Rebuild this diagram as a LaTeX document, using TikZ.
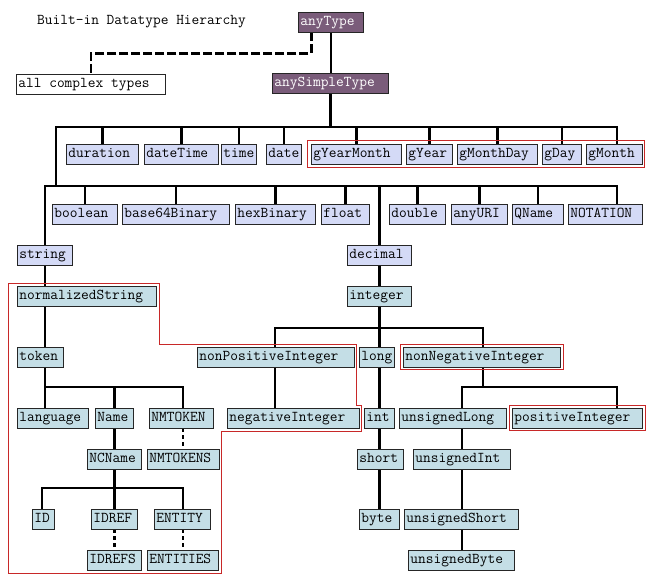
\documentclass[tikz,border=0pt]{standalone}
\usepackage{fontspec}
\pgfdeclarelayer{bg}
\pgfsetlayers{bg,main}
\definecolor{lav}{RGB}{212,218,246}
\definecolor{teal}{RGB}{196,222,230}
\definecolor{purp}{RGB}{122,92,122}
\definecolor{redl}{RGB}{200,40,40}
\newcommand\cour{\ttfamily\fontsize{15}{17}\selectfont}
\tikzset{
  bx/.style={draw=black!85, line width=0.8pt, inner xsep=2pt, inner ysep=0pt,
    minimum height=20pt, text height=9.5pt, text depth=3pt,
    font=\cour},
  lavbox/.style={fill=lav},
  tealbox/.style={fill=teal},
  purpbox/.style={fill=purp, text=white},
  whitebox/.style={fill=white},
  tree/.style={line width=2.8pt, line cap=rect},
  dtree/.style={line width=2.8pt, dash pattern=on 4pt off 3pt},
  redline/.style={draw=redl, line width=1pt},
}
\newcommand\bxn[6]{\pgfmathsetmacro\bxw{#4-#3-4}\node[bx,#1,anchor=west] (#2) at (#3,#5) {\makebox[\bxw pt][l]{#6}};}
\begin{document}
\begin{tikzpicture}[x=1pt,y=-1pt]
\useasboundingbox (0,0) rectangle (657,586);
\node[anchor=west, inner sep=0pt, font=\cour] (title) at (37,22) {Built-in Datatype Hierarchy};
% top
\bxn{purpbox}{anyType}{298}{363}{22}{anyType}
\bxn{whitebox}{allcomplex}{16}{165}{84}{all complex types}
\bxn{purpbox}{anySimpleType}{272}{388}{83}{anySimpleType}
% row 1
\bxn{lavbox}{duration}{66}{138}{154}{duration}
\bxn{lavbox}{dateTime}{144}{218}{154}{dateTime}
\bxn{lavbox}{time}{221}{256}{154}{time}
\bxn{lavbox}{date}{266}{301}{154}{date}
\bxn{lavbox}{gYearMonth}{311}{401}{154}{gYearMonth}
\bxn{lavbox}{gYear}{406}{452}{154}{gYear}
\bxn{lavbox}{gMonthDay}{457}{537}{154}{gMonthDay}
\bxn{lavbox}{gDay}{542}{581}{154}{gDay}
\bxn{lavbox}{gMonth}{586}{642}{154}{gMonth}
% row 2
\bxn{lavbox}{boolean}{52}{117}{214.5}{boolean}
\bxn{lavbox}{base64Binary}{122}{229}{214.5}{base64Binary}
\bxn{lavbox}{hexBinary}{235}{315}{214.5}{hexBinary}
\bxn{lavbox}{float}{321}{369}{214.5}{float}
\bxn{lavbox}{double}{389}{445}{214.5}{double}
\bxn{lavbox}{anyURI}{451}{507}{214.5}{anyURI}
\bxn{lavbox}{QName}{512}{563}{214.5}{QName}
\bxn{lavbox}{NOTATION}{568}{642}{214.5}{NOTATION}
% row 3
\bxn{lavbox}{string}{17}{72}{255}{string}
\bxn{lavbox}{decimal}{347}{411}{255}{decimal}
% row 4
\bxn{tealbox}{normalizedString}{17}{156}{296}{normalizedString}
\bxn{tealbox}{integer}{347}{411}{296}{integer}
% row 5
\bxn{tealbox}{token}{17}{63}{357}{token}
\bxn{tealbox}{nonPositiveInteger}{197}{354}{357}{nonPositiveInteger}
\bxn{tealbox}{long}{359}{394}{357}{long}
\bxn{tealbox}{nonNegativeInteger}{403}{560}{357}{nonNegativeInteger}
% row 6
\bxn{tealbox}{language}{17}{88}{418}{language}
\bxn{tealbox}{Name}{95}{133}{418}{Name}
\bxn{tealbox}{NMTOKEN}{149}{213}{418}{NMTOKEN}
\bxn{tealbox}{negativeInteger}{227}{359}{418}{negativeInteger}
\bxn{tealbox}{int}{364}{394}{418}{int}
\bxn{tealbox}{unsignedLong}{399}{506}{418}{unsignedLong}
\bxn{tealbox}{positiveInteger}{512}{642}{418}{positiveInteger}
% row 7
\bxn{tealbox}{NCName}{87}{141}{459}{NCName}
\bxn{tealbox}{NMTOKENS}{147}{219}{459}{NMTOKENS}
\bxn{tealbox}{short}{357}{403}{459}{short}
\bxn{tealbox}{unsignedInt}{413}{510}{459}{unsignedInt}
% row 8
\bxn{tealbox}{ID}{32}{54}{519}{ID}
\bxn{tealbox}{IDREF}{91}{137}{519}{IDREF}
\bxn{tealbox}{ENTITY}{154}{210}{519}{ENTITY}
\bxn{tealbox}{byte}{359}{399}{519}{byte}
\bxn{tealbox}{unsignedShort}{404}{518}{519}{unsignedShort}
% row 9
\bxn{tealbox}{IDREFS}{87}{141}{560}{IDREFS}
\bxn{tealbox}{ENTITIES}{147}{218}{560}{ENTITIES}
\bxn{tealbox}{unsignedByte}{408}{514}{560}{unsignedByte}
% bus coordinates
\coordinate (b1L) at (56,127);
\coordinate (b1R) at (617,127);
\coordinate (b2L) at (45,186);
\coordinate (b2R) at (617,186);
\coordinate (bIL) at (275,328);
\coordinate (bIR) at (483,328);
\coordinate (tL) at (45,387);
\coordinate (tR) at (183,387);
\coordinate (nL) at (462,387);
\coordinate (nR) at (617,387);
\coordinate (cL) at (42,488);
\coordinate (cR) at (183,488);
\begin{pgfonlayer}{bg}
% top
\draw[tree] (anyType.south) -- (anyType.south |- anySimpleType.north);
\draw[line width=2.8pt, dash pattern=on 9pt off 3pt] ([xshift=-19.5pt]anyType.south) -- ++(0,21) -| (allcomplex.north);
\draw[tree] (anySimpleType.south) -- (anySimpleType.south |- b1L);
\draw[tree] (b1L) -- (b1R);
\foreach \n in {duration,dateTime,time,date,gYearMonth,gYear,gMonthDay,gDay}
  \draw[tree] (\n.north) -- (\n.north |- b1L);
\draw[tree] (gMonth.north -| b1R) -- (b1R);
\draw[tree] (b1L) -- (b1L |- b2L);
\draw[tree] (b2L) -- (b2R);
\foreach \n in {boolean,base64Binary,hexBinary,float,double,anyURI,QName,decimal}
  \draw[tree] (\n.north) -- (\n.north |- b2L);
\draw[tree] (NOTATION.north -| b2R) -- (b2R);
\draw[tree] (string.north -| b2L) -- (b2L);
% string subtree
\draw[tree] (string.south -| b2L) -- (normalizedString.north -| b2L);
\draw[tree] (normalizedString.south -| b2L) -- (token.north -| b2L);
\draw[tree] (token.south -| b2L) -- (tL);
\draw[tree] (tL) -- (tR);
\draw[tree] (language.north -| tL) -- (tL);
\draw[tree] (Name.north) -- (Name.north |- tL);
\draw[tree] (NMTOKEN.north -| tR) -- (tR);
\draw[dtree] (NMTOKEN.south -| tR) -- (NMTOKENS.north -| tR);
\draw[tree] (Name.south) -- (Name.south |- NCName.north);
\draw[tree] (NCName.south) -- (NCName.south |- cL);
\draw[tree] (cL) -- (cR);
\draw[tree] (ID.north -| cL) -- (cL);
\draw[tree] (IDREF.north) -- (IDREF.north |- cL);
\draw[tree] (ENTITY.north -| cR) -- (cR);
\draw[dtree] (IDREF.south) -- (IDREF.south |- IDREFS.north);
\draw[dtree] (ENTITY.south -| cR) -- (ENTITIES.north -| cR);
% decimal subtree
\draw[tree] (decimal.south) -- (integer.north);
\draw[tree] (integer.south) -- (integer.south |- long.north);
\draw[tree] (bIL) -- (bIR);
\draw[tree] (nonPositiveInteger.north -| bIL) -- (bIL);
\draw[tree] (nonNegativeInteger.north -| bIR) -- (bIR);
\draw[tree] (nonPositiveInteger.south -| bIL) -- (negativeInteger.north -| bIL);
\draw[tree] (integer.south |- long.south) -- (integer.south |- int.north);
\draw[tree] (integer.south |- int.south) -- (integer.south |- short.north);
\draw[tree] (integer.south |- short.south) -- (integer.south |- byte.north);
\draw[tree] (nonNegativeInteger.south -| bIR) -- (bIR |- nL);
\draw[tree] (nL) -- (nR);
\draw[tree] (unsignedLong.north -| nL) -- (nL);
\draw[tree] (positiveInteger.north -| nR) -- (nR);
\draw[tree] (unsignedLong.south -| nL) -- (unsignedInt.north -| nL);
\draw[tree] (unsignedInt.south -| nL) -- (unsignedShort.north -| nL);
\draw[tree] (unsignedShort.south -| nL) -- (unsignedByte.north -| nL);
\end{pgfonlayer}
% red groupings
\draw[redline] (307,141) rectangle (644,168);
\draw[redline] ([shift={(-2.5,-2.5)}]nonNegativeInteger.north west) rectangle ([shift={(2.5,2.5)}]nonNegativeInteger.south east);
\draw[redline] ([shift={(-2.5,-2.5)}]positiveInteger.north west) rectangle ([shift={(2.5,2.5)}]positiveInteger.south east);
\draw[redline] (8,283) -- (159,283) -- (159,344) -- (356,344) -- (356,405) -- (361,405) -- (361,431) -- (221,431) -- (221,573) -- (8,573) -- cycle;
\end{tikzpicture}
\end{document}
